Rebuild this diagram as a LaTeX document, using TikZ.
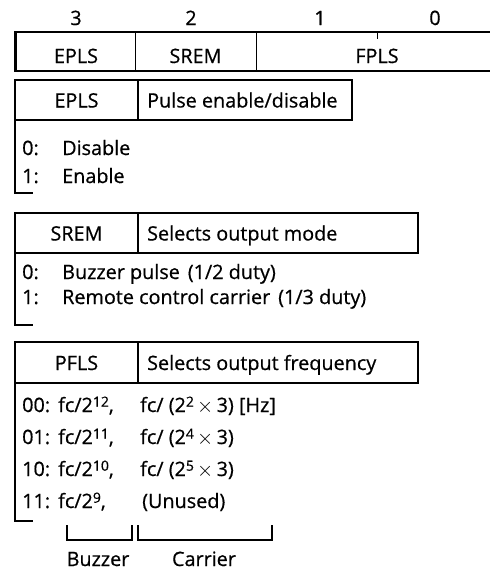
\documentclass[tikz,border=0pt]{standalone}
\usepackage{fontspec}
\setmainfont{Open Sans}[FakeBold=0.6]
\newcommand{\sps}[1]{\raisebox{0.5ex}{\fontsize{14}{14}\selectfont #1}}
\begin{document}
\begin{tikzpicture}[x=1pt,y=-1pt,
  txt/.style={font=\fontsize{19.8}{22}\selectfont, inner sep=0pt, anchor=base},
  ltxt/.style={txt, anchor=base west},
  regline/.style={line width=2pt},
  boxline/.style={line width=1.2pt},
  brk/.style={line width=1.4pt},
]
\useasboundingbox (0,0) rectangle (490,571);

% ---- register ----
\draw[line width=1pt] (135,31.5) -- (135,71) (256,31.5) -- (256,71);
\draw[line width=1pt] (377,31.5) -- (377,39);
\draw[regline] (500,31.5) -- (15,31.5) -- (15,71) -- (500,71);
\draw[line width=1.2pt] (16.5,31.5) -- (16.5,71);
\node[txt] (b3) at (76,25) {3};
\node[txt] (b2) at (191,25) {2};
\node[txt] (b1) at (320,25) {1};
\node[txt] (b0) at (435,25) {0};
\node[txt] (r3) at (76,63) {EPLS};
\node[txt] (r2) at (195.5,63) {SREM};
\node[txt] (r1) at (377,63) {FPLS};

% ---- EPLS ----
\draw[boxline] (15,80) rectangle (352,120) (138,80) -- (138,120);
\node[txt] (h1) at (76.5,107.5) {EPLS};
\node[ltxt] (h1d) at (147,107.5) {Pulse enable/disable};
\draw[brk] (15,120) -- (15,193) -- (33,193);
\node[ltxt] (e0) at (22,155) {0:};
\node[ltxt] (e0t) at (62,155) {Disable};
\node[ltxt] (e1) at (22,183) {1:};
\node[ltxt] (e1t) at (62,183) {Enable};

% ---- SREM ----
\draw[boxline] (15,213) rectangle (418,253) (138,213) -- (138,253);
\node[txt] (h2) at (76.5,240.5) {SREM};
\node[ltxt] (h2d) at (147,240.5) {Selects output mode};
\draw[brk] (15,253) -- (15,325) -- (33,325);
\node[ltxt] (s0) at (22,279) {0:};
\node[ltxt] (s0t) at (62,279) {Buzzer pulse\hspace{0.4em}(1/2 duty)};
\node[ltxt] (s1) at (22,304) {1:};
\node[ltxt] (s1t) at (62,304) {Remote control carrier\hspace{0.4em}(1/3 duty)};

% ---- PFLS ----
\draw[boxline] (15,342) rectangle (418,383) (138,342) -- (138,383);
\node[txt] (h3) at (76.5,370) {PFLS};
\node[ltxt] (h3d) at (147,370) {Selects output frequency};
\draw[brk] (15,383) -- (15,521) -- (33,521);
\node[ltxt] (p0) at (22,412) {00:};
\node[ltxt] (p0a) at (58,412) {fc/2\sps{12},};
\node[ltxt] (p0b) at (140,412) {fc/ (2\sps{2}\,$\times$\,3) [Hz]};
\node[ltxt] (p1) at (22,444) {01:};
\node[ltxt] (p1a) at (58,444) {fc/2\sps{11},};
\node[ltxt] (p1b) at (140,444) {fc/ (2\sps{4}\,$\times$\,3)};
\node[ltxt] (p2) at (22,476) {10:};
\node[ltxt] (p2a) at (58,476) {fc/2\sps{10},};
\node[ltxt] (p2b) at (140,476) {fc/ (2\sps{5}\,$\times$\,3)};
\node[ltxt] (p3) at (22,508) {11:};
\node[ltxt] (p3a) at (58,508) {fc/2\sps{9},};
\node[ltxt] (p3b) at (142,508) {(Unused)};

% ---- sub brackets ----
\draw[brk] (67,525) -- (67,540) -- (132,540) -- (132,525);
\draw[brk] (138,525) -- (138,540) -- (272,540) -- (272,525);
\node[txt] (lb) at (98,566) {Buzzer};
\node[txt] (lc) at (204,566) {Carrier};
\end{tikzpicture}
\end{document}
